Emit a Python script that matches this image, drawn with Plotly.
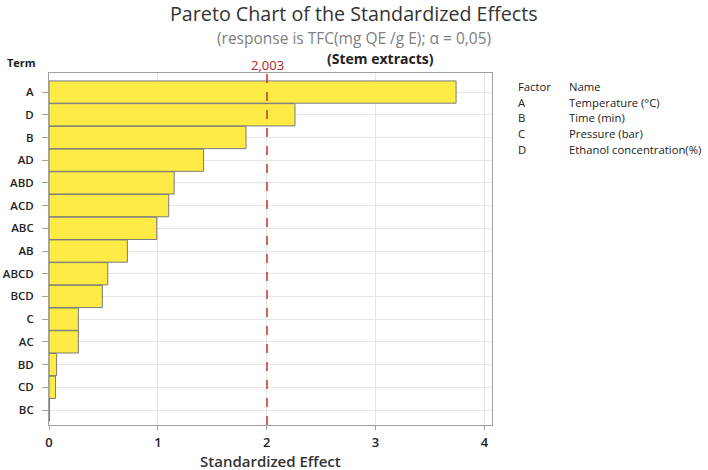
import plotly.graph_objects as go

terms = ["A", "D", "B", "AD", "ABD", "ACD", "ABC", "AB", "ABCD", "BCD", "C", "AC", "BD", "CD", "BC"]
effects = [3.74, 2.26, 1.81, 1.42, 1.15, 1.10, 0.99, 0.72, 0.54, 0.49, 0.27, 0.27, 0.07, 0.06, 0.005]
critical = 2.003
x_ticks = [0, 1, 2, 3, 4]
factors = ["A", "B", "C", "D"]
names = ["Temperature (°C)", "Time (min)", "Pressure (bar)", "Ethanol concentration(%)"]

FONT = "Open Sans"
TOP, PH, LEFT, PW = 73, 352, 49, 443


def py(pix):
    return 1 + (TOP - pix) / PH


def px(pix):
    return (pix - LEFT) / PW


fig = go.Figure()
fig.add_trace(go.Bar(
    x=effects, y=terms, orientation="h",
    marker=dict(color="#FFEB45", line=dict(color="#7a7a7a", width=1)),
    showlegend=False,
))

fig.add_shape(type="line", xref="x", yref="paper", x0=critical, x1=critical, y0=0, y1=1 + 5 / PH,
              line=dict(color="#c0392b", width=1.5, dash="dash"))

fig.update_layout(
    width=708, height=470,
    margin=dict(l=49, r=216, t=73, b=45),
    paper_bgcolor="white", plot_bgcolor="white",
    bargap=0.02,
    font=dict(family=FONT, color="#222"),
    xaxis=dict(range=[0, 4.07], tickvals=x_ticks, showgrid=True, gridcolor="#e6e6e6",
               zeroline=False, showline=True, linecolor="#a0a0a0", mirror=True,
               ticks="outside", ticklen=4, tickcolor="#a0a0a0", ticklabelstandoff=1,
               tickfont=dict(size=13, color="#222", weight=600), automargin=False),
    yaxis=dict(type="category", categoryorder="array", categoryarray=terms,
               range=[14.66, -0.84], showgrid=True, gridcolor="#e6e6e6",
               showline=True, linecolor="#a0a0a0", mirror=True,
               ticks="outside", ticklen=6, tickcolor="#a0a0a0", ticklabelstandoff=6,
               automargin=False,
               tickfont=dict(size=11.5, color="#222", weight=600)),
)

fig.add_annotation(text="Pareto Chart of the Standardized Effects", xref="paper", yref="paper",
                   x=px(354), y=py(13.5), xanchor="center", yanchor="middle",
                   showarrow=False, font=dict(size=19.7, color="#333"))
fig.add_annotation(text="(response is TFC(mg QE /g E); α = 0,05)", xref="paper", yref="paper",
                   x=px(354), y=py(38), xanchor="center", yanchor="middle",
                   showarrow=False, font=dict(size=15.5, color="#808080"))
fig.add_annotation(text="Standardized Effect", xref="paper", yref="paper",
                   x=px(270), y=py(460.5), xanchor="center", yanchor="middle",
                   showarrow=False, font=dict(size=15, color="#333", weight=600))
fig.add_annotation(text="Term", xref="paper", yref="paper",
                   x=px(5), y=py(62), xanchor="left", yanchor="middle",
                   showarrow=False, font=dict(size=11, color="#222", weight=700))
fig.add_annotation(text="2,003", xref="x", yref="paper",
                   x=critical, y=py(65), xanchor="center", yanchor="middle",
                   showarrow=False, font=dict(size=13, color="#b22222"))
fig.add_annotation(text="(Stem extracts)", xref="paper", yref="paper",
                   x=px(380), y=py(59), xanchor="center", yanchor="middle",
                   showarrow=False, font=dict(size=14, color="#222", weight=700))

# factor table
col1 = px(516)
col2 = px(567)
ys = [86, 102, 117.5, 133, 149]
tfont = dict(size=11.3, color="#222")
fig.add_annotation(text="Factor", xref="paper", yref="paper", x=col1, y=py(ys[0]),
                   xanchor="left", yanchor="middle", showarrow=False, font=tfont)
fig.add_annotation(text="Name", xref="paper", yref="paper", x=col2, y=py(ys[0]),
                   xanchor="left", yanchor="middle", showarrow=False, font=tfont)
for i, (f, n) in enumerate(zip(factors, names)):
    yy = py(ys[i + 1])
    fig.add_annotation(text=f, xref="paper", yref="paper", x=col1, y=yy,
                       xanchor="left", yanchor="middle", showarrow=False, font=tfont)
    fig.add_annotation(text=n, xref="paper", yref="paper", x=col2, y=yy,
                       xanchor="left", yanchor="middle", showarrow=False, font=tfont)

fig.write_html("out.html")
